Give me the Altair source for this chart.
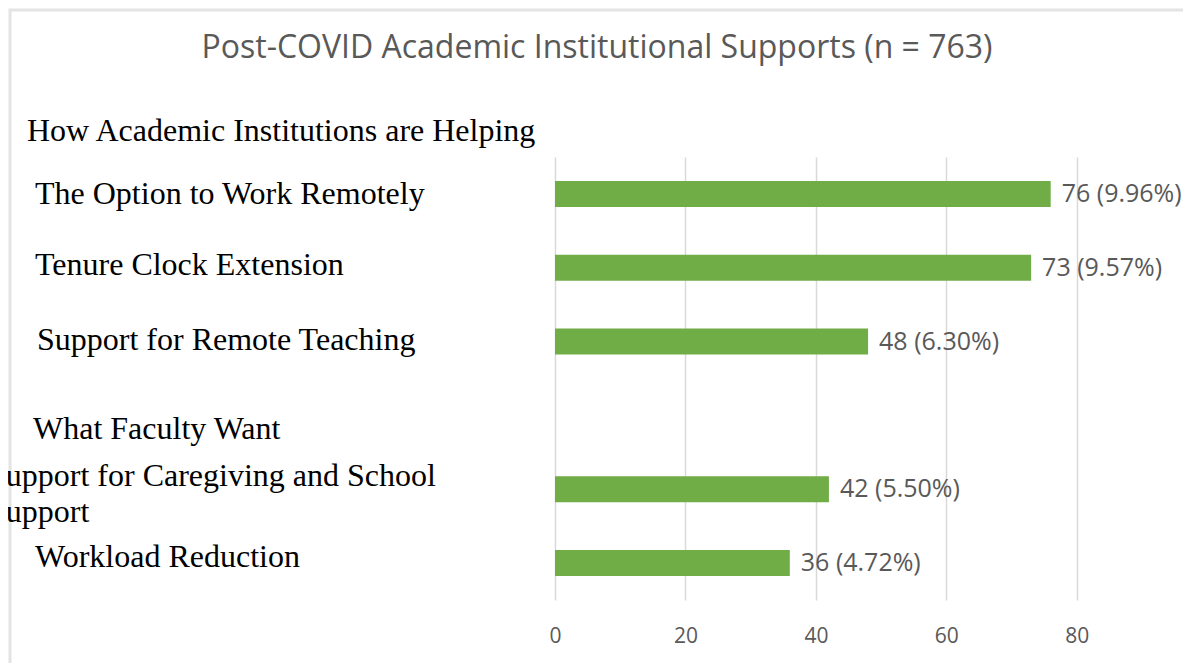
import altair as alt
import pandas as pd

# ---- data ----
slots = ["s1", "s2", "s3", "s4", "s5", "s6"]
row_labels = ["The Option to Work Remotely", "Tenure Clock Extension",
              "Support for Remote Teaching", "",
              "Support for Caregiving and School|Support", "Workload Reduction"]
counts = [76, 73, 48, None, 42, 36]
percents = [9.96, 9.57, 6.30, None, 5.50, 4.72]
headers = ["How Academic Institutions are Helping", "What Faculty Want"]
header_slots = ["s1", "s4"]
tick_values = [0, 20, 40, 60, 80]
title_text = "Post-COVID Academic Institutional Supports (n = 763)"

# layout tweaks (pixel offsets for the free-floating text boxes)
HALF = 443 / 6 / 2
row_dx = [0, 0, 2, 0, -47, 0]
row_dy = [HALF + d for d in [0, -3, -2, 0, -13, -6]]
header_dx = [-8, -2]
header_dy = [HALF + d for d in [-63, 14]]

bars_df = pd.DataFrame({
    "slot": slots,
    "count": counts,
    "label": [f"{c} ({p:.2f}%)" if c is not None else "" for c, p in zip(counts, percents)],
})
rows_df = pd.DataFrame({"slot": slots, "text": row_labels, "dx": row_dx, "dy": row_dy})
rows_df = rows_df[rows_df["text"] != ""]
head_df = pd.DataFrame({"slot": header_slots, "text": headers, "dx": header_dx, "dy": header_dy})

GREEN = "#70AD47"
GRAY = "#595959"
SERIF = "Liberation Serif"
SANS = "Open Sans"

y_enc = alt.Y("slot:N", sort=slots, axis=None,
              scale=alt.Scale(domain=slots, paddingInner=0, paddingOuter=0))
x_scale = alt.Scale(domain=[0, 90], nice=False)

bars = alt.Chart(bars_df).mark_bar(color=GREEN, size=26).encode(
    x=alt.X("count:Q", scale=x_scale,
            axis=alt.Axis(values=tick_values, title=None, domain=False, ticks=False,
                          labelFont=SANS, labelFontSize=21, labelColor=GRAY,
                          labelPadding=25, labelFlush=False, grid=True,
                          gridColor="#d9d9d9", gridWidth=1.5)),
    y=y_enc,
)

values = alt.Chart(bars_df).mark_text(
    align="left", baseline="middle", dx=11, font=SANS, fontSize=25, color=GRAY
).encode(
    x=alt.X("count:Q", scale=x_scale),
    y=y_enc,
    text="label:N",
)

row_text = alt.Chart(rows_df).transform_calculate(
    lines="split(datum.text, '|')"
).mark_text(
    align="left", baseline="middle", font=SERIF, fontSize=32, color="#000000",
    lineHeight=36
).encode(
    x=alt.value(-520),
    xOffset=alt.XOffset("dx:Q", scale=None),
    y=y_enc,
    yOffset=alt.YOffset("dy:Q", scale=None),
    text="lines:N",
)

head_text = alt.Chart(head_df).mark_text(
    align="left", baseline="middle", font=SERIF, fontSize=32, color="#000000"
).encode(
    x=alt.value(-520),
    xOffset=alt.XOffset("dx:Q", scale=None),
    y=y_enc,
    yOffset=alt.YOffset("dy:Q", scale=None),
    text="text:N",
)

title = alt.Chart(pd.DataFrame({"t": [title_text]})).mark_text(
    align="center", baseline="middle", font=SANS, fontSize=32, color=GRAY
).encode(
    x=alt.value(42),
    y=alt.value(-109),
    text="t:N",
)

border = alt.Chart(pd.DataFrame({"b": [1]})).mark_rect(
    filled=False, stroke="#e4e4e4", strokeWidth=3
).encode(
    x=alt.value(-545), x2=alt.value(633),
    y=alt.value(-147), y2=alt.value(511),
)

chart = alt.layer(border, bars, values, row_text, head_text, title).properties(
    width=587, height=443,
    autosize=alt.AutoSizeParams(type="none"),
    padding={"left": 547, "top": 149, "right": 41, "bottom": 63},
).configure(background="white").configure_view(strokeWidth=0)

chart.save("out.html", embed_options={"renderer": "svg", "actions": False})
